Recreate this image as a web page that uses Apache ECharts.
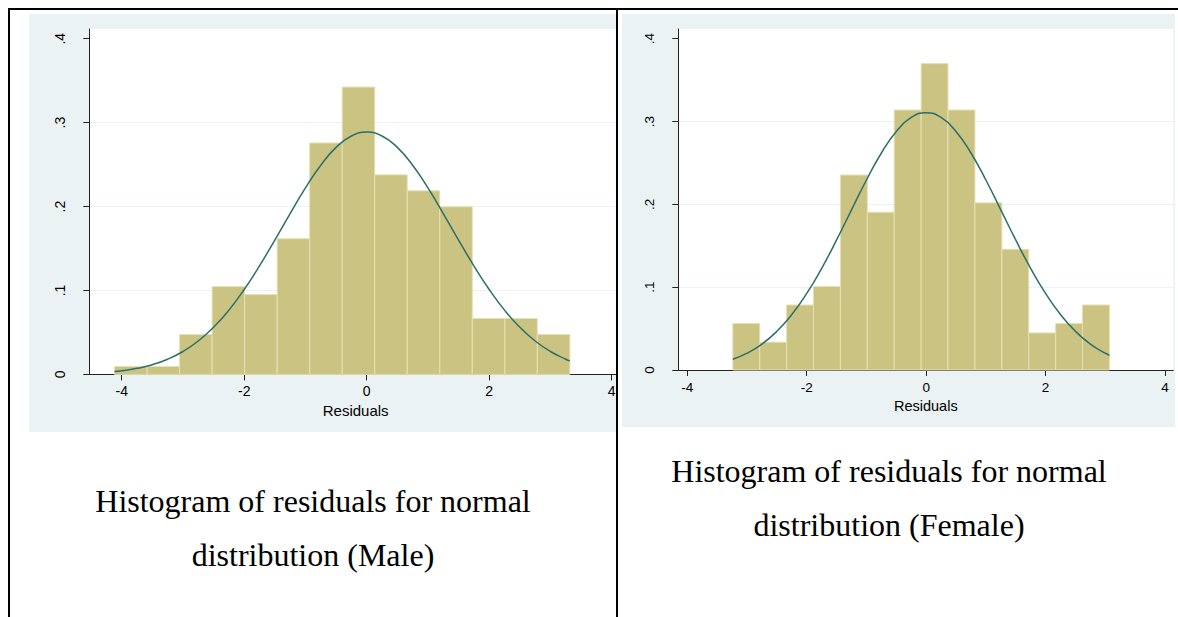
<!DOCTYPE html>
<html>
<head>
<meta charset="utf-8">
<script src="https://cdn.jsdelivr.net/npm/echarts@6/dist/echarts.min.js"></script>
<style>
  html, body { margin: 0; padding: 0; background: #fff; }
  body { width: 1178px; height: 617px; position: relative; overflow: hidden; }
  .line { position: absolute; background: #000; z-index: 5; }
  .clip { position: absolute; overflow: hidden; }
  .caption {
    position: absolute; text-align: center; color: #000;
    font-family: "Liberation Serif", "Times New Roman", serif;
    font-size: 32px; line-height: 54px;
  }
</style>
</head>
<body>
<div class="line" style="left:8px;top:8px;width:1170px;height:2px"></div>
<div class="line" style="left:8px;top:8px;width:2px;height:609px"></div>
<div class="line" style="left:616px;top:8px;width:2px;height:609px"></div>

<div class="clip" style="left:29px;top:14px;width:588px;height:418px">
  <div id="male" style="width:595px;height:418px"></div>
</div>
<div class="clip" style="left:622px;top:14px;width:553px;height:413px">
  <div id="female" style="width:553px;height:413px"></div>
</div>

<div class="caption" style="left:10px;top:474px;width:606px">Histogram of residuals for normal<br>distribution (Male)</div>
<div class="caption" style="left:618px;top:444px;width:542px">Histogram of residuals for normal<br>distribution (Female)</div>

<script>
// bin edges and densities
const maleEdges = [-4.117, -3.586, -3.055, -2.524, -1.993, -1.462, -0.931, -0.400, 0.131, 0.662, 1.193, 1.724, 2.255, 2.786, 3.317];
const maleDensity = [0.0095, 0.0095, 0.0476, 0.1046, 0.0951, 0.1617, 0.2758, 0.3424, 0.2378, 0.2188, 0.1997, 0.0666, 0.0666, 0.0476];
const maleCurveX = [-4.117, -4, -3.75, -3.5, -3.25, -3, -2.75, -2.5, -2.25, -2, -1.75, -1.5, -1.25, -1, -0.75, -0.5, -0.25, 0, 0.25, 0.5, 0.75, 1, 1.25, 1.5, 1.75, 2, 2.25, 2.5, 2.75, 3, 3.25, 3.317];
const maleCurveY = [0.0034, 0.0044, 0.0072, 0.0116, 0.0181, 0.0273, 0.0398, 0.0561, 0.0766, 0.1012, 0.1294, 0.1601, 0.1917, 0.2222, 0.2492, 0.2705, 0.2841, 0.2888, 0.2841, 0.2705, 0.2492, 0.2222, 0.1917, 0.1601, 0.1294, 0.1012, 0.0766, 0.0561, 0.0398, 0.0273, 0.0181, 0.0161];

const femaleEdges = [-3.238, -2.787, -2.337, -1.886, -1.436, -0.985, -0.535, -0.084, 0.366, 0.817, 1.268, 1.718, 2.169, 2.619, 3.070];
const femaleDensity = [0.0561, 0.0336, 0.0785, 0.1009, 0.2354, 0.1906, 0.3139, 0.3699, 0.3139, 0.2018, 0.1457, 0.0448, 0.0561, 0.0785];
const femaleCurveX = [-3.238, -3, -2.75, -2.5, -2.25, -2, -1.75, -1.5, -1.25, -1, -0.75, -0.5, -0.25, 0, 0.25, 0.5, 0.75, 1, 1.25, 1.5, 1.75, 2, 2.25, 2.5, 2.75, 3, 3.07];
const femaleCurveY = [0.0129, 0.0203, 0.0313, 0.0467, 0.0669, 0.0924, 0.1227, 0.1570, 0.1934, 0.2294, 0.2620, 0.2880, 0.3049, 0.3107, 0.3049, 0.2880, 0.2620, 0.2294, 0.1934, 0.1570, 0.1227, 0.0924, 0.0669, 0.0467, 0.0313, 0.0203, 0.0178];

const xTicks = [-4, -2, 0, 2, 4];
const yTicks = [0, 0.1, 0.2, 0.3, 0.4];
const xTitle = "Residuals";

const BG = "#eaf2f3";
const BAR = "#cbc382";
const BAR_EDGE = "#e6e1b4";
const CURVE = "#2c6f69";
const AXIS = "#222";

function makeOption(edges, dens, cx, cy, g, fs) {
  const bins = dens.map((d, i) => [edges[i], edges[i + 1], d]);
  const curve = cx.map((x, i) => [x, cy[i]]);
  return {
    backgroundColor: BG,
    animation: false,
    grid: {
      left: g.left, right: g.right, top: g.top, bottom: g.bottom,
      show: true, backgroundColor: "#fff", borderWidth: 0
    },
    xAxis: {
      type: "value", min: g.xmin, max: g.xmax,
      name: xTitle, nameLocation: "middle", nameGap: 23,
      nameTextStyle: { fontFamily: "Liberation Sans", fontSize: fs + 1, color: "#000" },
      axisLine: { show: true, onZero: false, lineStyle: { color: AXIS, width: 1 } },
      axisTick: { show: true, length: 6, customValues: xTicks, lineStyle: { color: AXIS } },
      axisLabel: { customValues: xTicks, margin: 10, fontFamily: "Liberation Sans", fontSize: fs, color: "#000" },
      splitLine: { show: false }
    },
    yAxis: {
      type: "value", min: 0, max: g.ymax, interval: 0.1,
      axisLine: { show: true, onZero: false, lineStyle: { color: AXIS, width: 1 } },
      axisTick: { show: true, length: 6, customValues: yTicks, lineStyle: { color: AXIS } },
      axisLabel: {
        customValues: yTicks, rotate: 90, margin: 22,
        fontFamily: "Liberation Sans", fontSize: fs, color: "#000",
        formatter: v => v === 0 ? "0" : v.toFixed(1).replace(/^0/, "")
      },
      splitLine: { show: true, showMinLine: false, showMaxLine: false, lineStyle: { color: BG, width: 1 } }
    },
    series: [
      {
        type: "custom",
        data: bins,
        encode: { x: [0, 1], y: 2 },
        z: 3,
        renderItem: (params, api) => {
          const p0 = api.coord([api.value(0), api.value(2)]);
          const p1 = api.coord([api.value(1), 0]);
          return {
            type: "rect",
            shape: { x: p0[0], y: p0[1], width: p1[0] - p0[0], height: p1[1] - p0[1] },
            style: { fill: BAR, stroke: BAR_EDGE, lineWidth: 1 }
          };
        }
      },
      {
        type: "line",
        data: curve,
        smooth: true,
        showSymbol: false,
        z: 4,
        lineStyle: { color: CURVE, width: 1.5 }
      }
    ]
  };
}

const maleChart = echarts.init(document.getElementById("male"), null, { renderer: "svg" });
maleChart.setOption(makeOption(maleEdges, maleDensity, maleCurveX, maleCurveY,
  { left: 60.3, right: 2, top: 15, bottom: 57.6, xmin: -4.529, xmax: 4.168, ymax: 0.4116 }, 14));

const femaleChart = echarts.init(document.getElementById("female"), null, { renderer: "svg" });
femaleChart.setOption(makeOption(femaleEdges, femaleDensity, femaleCurveX, femaleCurveY,
  { left: 56.3, right: 1.7, top: 15, bottom: 57, xmin: -4.151, xmax: 4.139, ymax: 0.4117 }, 13.5));
</script>
</body>
</html>
